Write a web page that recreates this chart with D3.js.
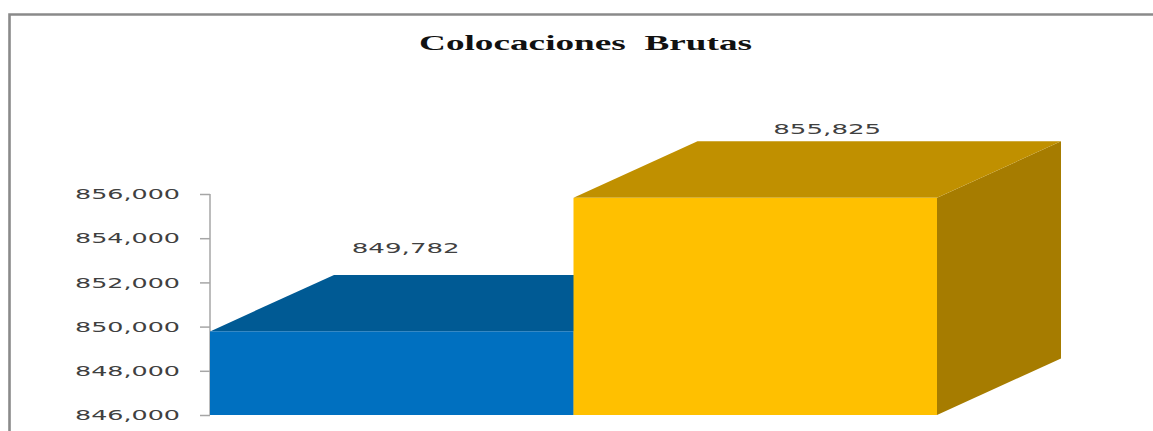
<!DOCTYPE html>
<html>
<head>
<meta charset="utf-8">
<script src="https://cdn.jsdelivr.net/npm/d3@7/dist/d3.min.js"></script>
<style>
html,body{margin:0;padding:0;background:#fff;}
svg{display:block;}
</style>
</head>
<body>
<svg id="chart" width="1153" height="431"></svg>
<script>
const categories = ["Periodo 1", "Periodo 2"];
const values = [849782, 855825];
const tickValues = [846000, 848000, 850000, 852000, 854000, 856000];
const frontColors = ["#0070c0", "#ffc000"];
const topColors = ["#005a94", "#c09000"];
const sideColors = ["#005080", "#a67c00"];
const labelOffsets = [78, 64];
const labelShifts = [14, 72];

const width = 1153, height = 431;
const depthX = 124, depthY = 56.5;
const fmt = d3.format(",");

const svg = d3.select("#chart");
const x = d3.scaleBand().domain(categories).range([210, 937]).padding(0);
const y = d3.scaleLinear().domain([846000, 856000]).range([415, 194]);

// outer chart frame, open to the right and bottom
svg.append("path")
  .attr("d", `M9.5,${height}V14.5H${width}`)
  .attr("fill", "none").attr("stroke", "#8a8a8a").attr("stroke-width", 2.6);

svg.append("text")
  .attr("x", 419).attr("y", 50)
  .attr("textLength", 333).attr("lengthAdjust", "spacingAndGlyphs")
  .attr("font-family", "Liberation Serif").attr("font-weight", "bold")
  .attr("font-size", 21).attr("fill", "#111")
  .style("white-space", "pre")
  .text("Colocaciones  Brutas");

// value axis
const axis = svg.append("g").attr("transform", "translate(210,0)")
  .call(d3.axisLeft(y).tickValues(tickValues).tickSize(10).tickPadding(20).tickFormat(fmt));
axis.selectAll("path,line").attr("stroke", "#a6a6a6").attr("stroke-width", 1.5);
axis.select(".domain").attr("d", `M0,${y(856000)}V${y(846000)}`);
axis.selectAll("text")
  .attr("font-family", "DejaVu Sans").attr("font-size", 14.5).attr("fill", "#404040")
  .attr("textLength", 105).attr("lengthAdjust", "spacingAndGlyphs");

// extruded bars: side, top, then front face, left to right
const bars = svg.append("g").selectAll("g")
  .data(values).join("g");

bars.append("path")
  .attr("fill", (d, i) => sideColors[i])
  .attr("d", (d, i) => {
    const r = x(categories[i]) + x.bandwidth();
    return `M${r},${y(d)}L${r + depthX},${y(d) - depthY}V${y.range()[0] - depthY}L${r},${y.range()[0]}Z`;
  });

bars.append("path")
  .attr("fill", (d, i) => topColors[i])
  .attr("d", (d, i) => {
    const l = x(categories[i]), r = l + x.bandwidth();
    return `M${l},${y(d)}L${l + depthX},${y(d) - depthY}H${r + depthX}L${r},${y(d)}Z`;
  });

bars.append("rect")
  .attr("fill", (d, i) => frontColors[i])
  .attr("x", (d, i) => x(categories[i]))
  .attr("y", d => y(d))
  .attr("width", x.bandwidth())
  .attr("height", d => y.range()[0] - y(d));

// value labels sit above the top face
svg.append("g").selectAll("text")
  .data(values).join("text")
  .attr("x", (d, i) => x(categories[i]) + x.bandwidth() / 2 + labelShifts[i])
  .attr("y", (d, i) => y(d) - labelOffsets[i])
  .attr("text-anchor", "middle")
  .attr("textLength", 108).attr("lengthAdjust", "spacingAndGlyphs")
  .attr("font-family", "DejaVu Sans").attr("font-size", 14.5).attr("fill", "#404040")
  .text(fmt);
</script>
</body>
</html>
